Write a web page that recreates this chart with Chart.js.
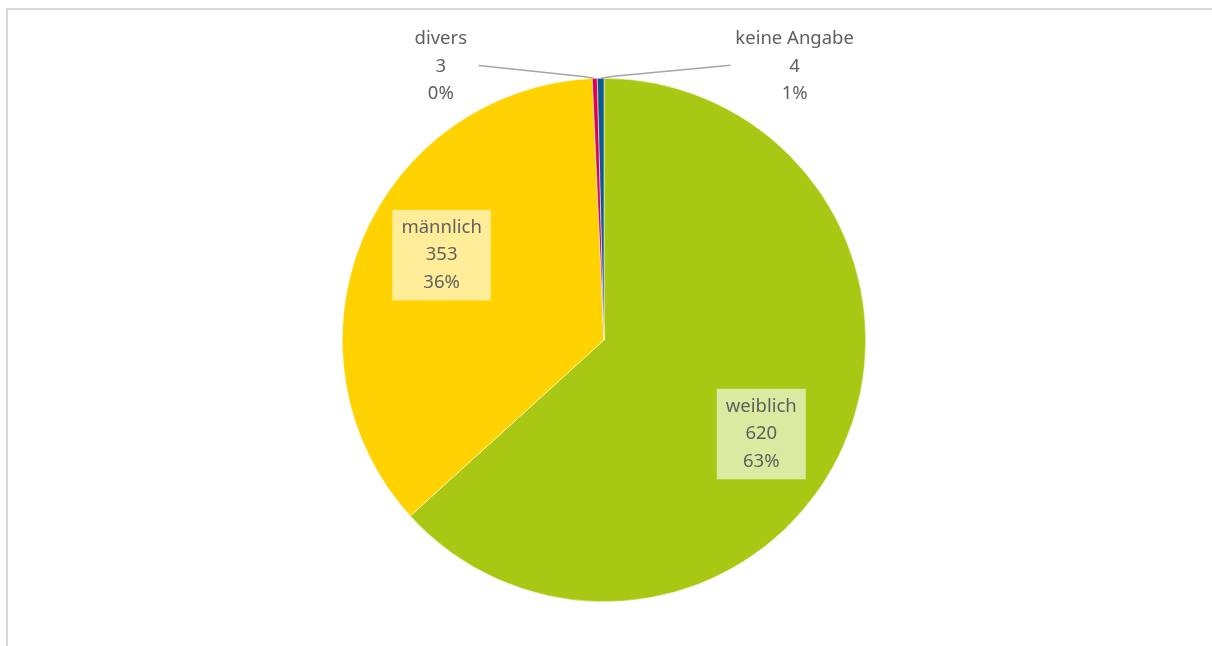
<!DOCTYPE html>
<html>
<head>
<meta charset="utf-8">
<script src="https://cdn.jsdelivr.net/npm/chart.js@4/dist/chart.umd.min.js"></script>
<style>
  html, body { margin: 0; padding: 0; background: #fff; }
  #wrap { position: relative; width: 1212px; height: 646px; }
</style>
</head>
<body>
<div id="wrap"><canvas id="pie" width="1212" height="646"></canvas></div>
<script>
var categories = ['weiblich', 'männlich', 'divers', 'keine Angabe'];
var counts = [620, 353, 3, 4];
var percentLabels = ['63%', '36%', '0%', '1%'];
var sliceColors = ['#A9C813', '#FFD200', '#E2004A', '#0B5A8E'];

// where each label goes: inside = on the slice, otherwise pulled out with a leader line
var labelSpots = [
  { inside: true, frac: 0.70, turn: 7 },
  { inside: true, frac: 0.70, turn: 5 },
  { inside: false, dx: -154, dy: -12, lineX: -116 },
  { inside: false, dx: 194, dy: -12, lineX: 130 }
];

var FONT = '18.5px "Noto Sans"';
var TEXT = '#5f5f5f';

var labelPlugin = {
  id: 'sliceLabels',
  beforeDraw: function(chart) {
    var c = chart.ctx;
    c.save();
    c.fillStyle = '#fff';
    c.fillRect(0, 0, chart.width, chart.height);
    // frame lines of the chart area
    c.strokeStyle = '#D9D9D9';
    c.lineWidth = 2;
    c.beginPath();
    c.moveTo(7, chart.height);
    c.lineTo(7, 9);
    c.lineTo(chart.width, 9);
    c.stroke();
    c.restore();
  },
  afterDatasetsDraw: function(chart) {
    var c = chart.ctx;
    var arcs = chart.getDatasetMeta(0).data;
    c.save();
    c.font = FONT;
    c.textAlign = 'center';
    c.textBaseline = 'middle';
    arcs.forEach(function(arc, i) {
      var p = arc.getProps(['x', 'y', 'startAngle', 'endAngle', 'outerRadius'], true);
      var mid = (p.startAngle + p.endAngle) / 2;
      var lines = [categories[i], String(counts[i]), percentLabels[i]];
      var spot = labelSpots[i];
      var lh = 27.5;
      var cx, cy;
      if (spot.inside) {
        var a = mid + spot.turn * Math.PI / 180;
        cx = p.x + Math.cos(a) * p.outerRadius * spot.frac;
        cy = p.y + Math.sin(a) * p.outerRadius * spot.frac;
        var w = 0;
        lines.forEach(function(t) { w = Math.max(w, c.measureText(t).width); });
        c.fillStyle = 'rgba(255,255,255,0.6)';
        c.fillRect(cx - w / 2 - 9, cy - lh * 1.5 - 4, w + 18, lh * 3 + 8);
      } else {
        var ex = p.x + Math.cos(mid) * p.outerRadius;
        var ey = p.y + Math.sin(mid) * p.outerRadius;
        cx = ex + spot.dx;
        cy = ey + spot.dy;
        c.strokeStyle = '#A6A6A6';
        c.lineWidth = 1.5;
        c.beginPath();
        c.moveTo(ex + spot.lineX, cy - 1);
        c.lineTo(ex + spot.lineX * 0.1, ey - 2);
        c.lineTo(ex, ey);
        c.stroke();
      }
      c.fillStyle = TEXT;
      lines.forEach(function(t, k) {
        c.fillText(t, cx, cy + (k - 1) * lh);
      });
    });
    c.restore();
  }
};

new Chart(document.getElementById('pie'), {
  type: 'pie',
  data: {
    labels: categories,
    datasets: [{
      data: counts,
      backgroundColor: sliceColors,
      borderColor: '#fff',
      borderWidth: 0.5
    }]
  },
  options: {
    responsive: false,
    animation: false,
    layout: { padding: { top: 78, bottom: 44, left: 0, right: 4 } },
    plugins: {
      legend: { display: false },
      tooltip: { enabled: false }
    }
  },
  plugins: [labelPlugin]
});
</script>
</body>
</html>
